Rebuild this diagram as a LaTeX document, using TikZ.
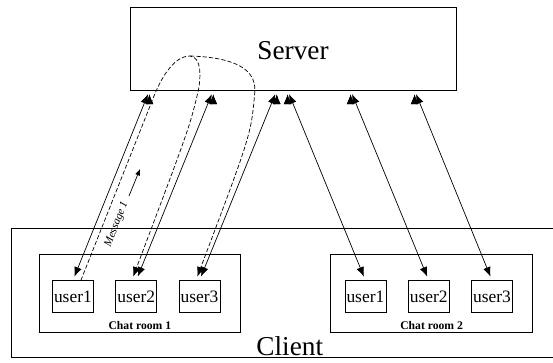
\documentclass[tikz,border=0pt]{standalone}
\usepackage{fontspec}
\setmainfont{Liberation Serif}
\usepackage{tikz}
\usetikzlibrary{arrows.meta, positioning}
\tikzstyle{hostbox}=[draw, line width=0.6pt]
\tikzstyle{roombox}=[draw, line width=0.5pt, minimum width=5.04cm, minimum height=1.96cm]
\tikzstyle{userbox}=[draw, line width=0.5pt, minimum width=1.025cm, minimum height=0.79cm, inner sep=1pt, font=\fontsize{12.4}{14}\selectfont]
\tikzstyle{roomlabel}=[anchor=base, font=\bfseries\fontsize{8.3}{10}\selectfont]
\tikzstyle{link}=[draw=black, line width=0.5pt, >={Latex[length=2.4mm, width=1.9mm]}, shorten >=0.1cm, shorten <=0.1cm]
\tikzstyle{msgline}=[draw=black, line width=0.5pt, dash pattern=on 3pt off 1.5pt, >={Latex[length=2.4mm, width=1.9mm]}, shorten >=0.1cm]

\begin{document}
\begin{tikzpicture}
		   \useasboundingbox (0,0) rectangle (13.825,9.05);
		   \begin{scope}
			   \node (server) at (7.325, 7.8375)[hostbox, minimum width=8.15cm, minimum height=2.075cm, text height=16.3pt, text depth=0pt, font=\fontsize{19.4}{22}\selectfont] {Server};
			   \node (client) at (7.245, 1.731)[hostbox, minimum width=13.91cm, minimum height=3.2375cm] {};
			   \node (clientname) at ([yshift=0.06cm]client.south)[anchor=base, font=\fontsize{19.4}{22}\selectfont] {Client};
			   % chat room 1
			   \node (room1) at (3.496, 1.7125)[roombox] {};
			   \node (a2) at (3.405, 1.6375)[userbox] {user2};
			   \node (a1) [userbox, left=0.54cm of a2] {user1};
			   \node (a3) [userbox, right=0.54cm of a2] {user3};
			   \node (name1) at ([yshift=0.095cm]room1.south)[roomlabel] {Chat room 1};
			   % chat room 2
			   \node (room2) at (10.79, 1.7125)[roombox] {};
			   \node (b2) at (10.7175, 1.6375)[userbox] {user2};
			   \node (b1) [userbox, left=0.54cm of b2] {user1};
			   \node (b3) [userbox, right=0.54cm of b2] {user3};
			   \node (name2) at ([yshift=0.095cm]room2.south)[roomlabel] {Chat room 2};
			   % message label
			   \node (msg) at (2.917, 3.445)[rotate=69, font=\itshape\fontsize{8}{9}\selectfont] {Message 1};
		   \end{scope}
		   \begin{scope}
			   \coordinate (s1) at ([xshift=0.4975cm]server.south west);
			   \coordinate (s2) at ([xshift=2.0925cm]server.south west);
			   \coordinate (s3) at ([xshift=3.68cm]server.south west);
			   \coordinate (s4) at ([xshift=3.95cm]server.south west);
			   \coordinate (s5) at ([xshift=5.525cm]server.south west);
			   \coordinate (s6) at ([xshift=7.125cm]server.south west);
			   \path [link, <->] (s1) edge (a1.north);
			   \path [link, <->] (s2) edge (a2.north);
			   \path [link, <->] (s3) edge (a3.north);
			   \path [link, <->] (s4) edge (b1.north);
			   \path [link, <->] (s5) edge (b2.north);
			   \path [link, <->] (s6) edge (b3.north);
		   \end{scope}
		   \begin{scope}
			   % message from user1 relayed to the others
			   \coordinate (peak) at (4.75, 7.65);
			   \draw [msgline, ->] ([xshift=0.2cm]a1.north) -- (3.85, 6.65)
				   .. controls (4.15, 7.4) and (4.5, 7.66) .. (peak)
				   .. controls (5.05, 7.62) and (5.02, 7.1) .. (4.96, 6.8)
				   .. controls (4.75, 5.9) .. ([xshift=-0.11cm]a2.north);
			   \draw [msgline, ->] (peak)
				   .. controls (5.7, 7.62) and (6.42, 7.4) .. (6.37, 6.75)
				   .. controls (6.28, 5.7) .. ([xshift=-0.09cm]a3.north);
			   \coordinate (msgtail) at (3.225, 4.15);
			   \coordinate (msghead) at (3.5, 4.825);
			   \draw [line width=0.5pt, -{Latex[length=1.6mm, width=1.3mm]}] (msgtail) -- (msghead);
		   \end{scope}
	   \end{tikzpicture}
\end{document}
